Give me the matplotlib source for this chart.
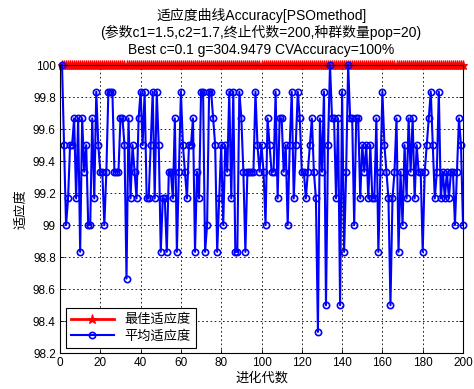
import matplotlib
matplotlib.use("Agg")
import matplotlib.pyplot as plt
import numpy as np

plt.rcParams['font.family'] = ['Liberation Sans', 'Noto Sans CJK SC', 'DejaVu Sans']

generations = list(range(1, 201))
best_fitness = [100.0] * 200
# average fitness (percent)
avg_fitness = [
    100.0, 99.5, 99.0, 99.1667, 99.5, 99.5, 99.6667, 99.1667, 99.6667, 98.8333,
    99.6667, 99.3333, 99.5, 99.0, 99.0, 99.6667, 99.1667, 99.8333, 99.5, 99.3333,
    99.3333, 99.0, 99.3333, 99.8333, 99.8333, 99.8333, 99.3333, 99.3333, 99.3333, 99.6667,
    99.6667, 99.5, 98.6667, 99.6667, 99.1667, 99.5, 99.3333, 99.1667, 99.6667, 99.8333,
    99.5, 99.8333, 99.1667, 99.1667, 99.5, 99.8333, 99.1667, 99.8333, 99.5, 98.8333,
    99.1667, 99.1667, 98.8333, 99.3333, 99.3333, 99.1667, 99.6667, 98.8333, 99.3333, 99.8333,
    99.5, 99.3333, 99.1667, 99.5, 99.5, 99.6667, 98.8333, 99.3333, 99.1667, 99.8333,
    99.8333, 98.8333, 99.0, 99.8333, 99.8333, 99.6667, 99.5, 98.8333, 99.1667, 99.5,
    99.0, 99.5, 99.3333, 99.8333, 99.1667, 99.8333, 98.8333, 98.8333, 99.8333, 99.6667,
    99.3333, 98.8333, 99.3333, 99.3333, 99.3333, 99.3333, 99.8333, 99.5, 99.3333, 99.5,
    99.3333, 99.0, 99.6667, 99.5, 99.3333, 99.3333, 99.8333, 99.1667, 99.6667, 99.6667,
    99.3333, 99.5, 99.0, 99.5, 99.8333, 99.1667, 99.5, 99.8333, 99.6667, 99.3333,
    99.3333, 99.1667, 99.3333, 99.5, 99.6667, 99.3333, 99.1667, 98.3333, 99.6667, 99.3333,
    99.8333, 98.5, 99.5, 100.0, 99.6667, 99.6667, 99.1667, 99.6667, 98.5, 99.8333,
    98.8333, 99.3333, 100.0, 99.6667, 99.6667, 99.0, 99.6667, 99.6667, 99.1667, 99.5,
    99.3333, 99.5, 99.1667, 99.5, 99.1667, 99.1667, 99.6667, 98.8333, 99.3333, 99.8333,
    99.5, 99.3333, 99.1667, 98.5, 99.1667, 99.3333, 99.6667, 98.8333, 99.3333, 99.0,
    99.5, 99.1667, 99.6667, 99.3333, 99.6667, 99.1667, 99.5, 99.3333, 99.3333, 98.8333,
    99.3333, 99.5, 99.6667, 99.8333, 99.5, 99.1667, 99.3333, 99.8333, 99.1667, 99.3333,
    99.1667, 99.3333, 99.1667, 99.3333, 99.3333, 99.0, 99.3333, 99.6667, 99.5, 99.0,
]
title_lines = ["适应度曲线Accuracy[PSOmethod]",
               "(参数c1=1.5,c2=1.7,终止代数=200,种群数量pop=20)",
               "Best c=0.1 g=304.9479 CVAccuracy=100%"]
legend_labels = ["最佳适应度", "平均适应度"]
x_label = "进化代数"
y_label = "适应度"
x_ticks = [0, 20, 40, 60, 80, 100, 120, 140, 160, 180, 200]
y_ticks = [98.2, 98.4, 98.6, 98.8, 99.0, 99.2, 99.4, 99.6, 99.8, 100.0]

fig = plt.figure(figsize=(4.74, 3.89), dpi=100)
ax = fig.add_axes([0.1266, 0.0918, 0.8502, 0.7411])

ax.plot(generations, best_fitness, color='red', marker='*', markersize=6.5,
        markeredgewidth=0.8, linewidth=2.0, label=legend_labels[0], clip_on=False)
ax.plot(generations, avg_fitness, color='blue', marker='o', markersize=4.5,
        markerfacecolor='none', markeredgewidth=1.2, linewidth=1.5,
        label=legend_labels[1], clip_on=False)

ax.set_xlim(0, 200)
ax.set_ylim(98.2, 100)
ax.set_xticks(x_ticks)
ax.set_yticks(y_ticks)
ax.set_xticklabels([str(t) for t in x_ticks])
ax.set_yticklabels([("%g" % t) if t != 99.0 else "99" for t in y_ticks])
ax.tick_params(direction='in', top=True, right=True, labelsize=8.5,
               length=3, width=0.6, colors='black', pad=3)
ax.grid(True, linestyle=(0, (2, 3)), color='black', linewidth=0.6)
for s in ax.spines.values():
    s.set_linewidth(0.8)

fig.text(0.5508, 0.961, title_lines[0], ha='center', va='center', fontsize=10)
fig.text(0.5508, 0.916, title_lines[1], ha='center', va='center', fontsize=10)
fig.text(0.5508, 0.871, title_lines[2], ha='center', va='center', fontsize=10)

ax.set_xlabel(x_label, fontsize=9.5, labelpad=2)
ax.set_ylabel(y_label, fontsize=9.5, labelpad=4)

leg = ax.legend(loc='lower left', bbox_to_anchor=(0.015, 0.017), borderaxespad=0,
                handlelength=3.2, fancybox=False, framealpha=1,
                edgecolor='black', borderpad=0.4, labelspacing=0.3,
                prop={'family': ['Noto Sans CJK SC'], 'size': 9.5})
leg.get_frame().set_linewidth(0.8)

fig.savefig('out.png', dpi=100)
